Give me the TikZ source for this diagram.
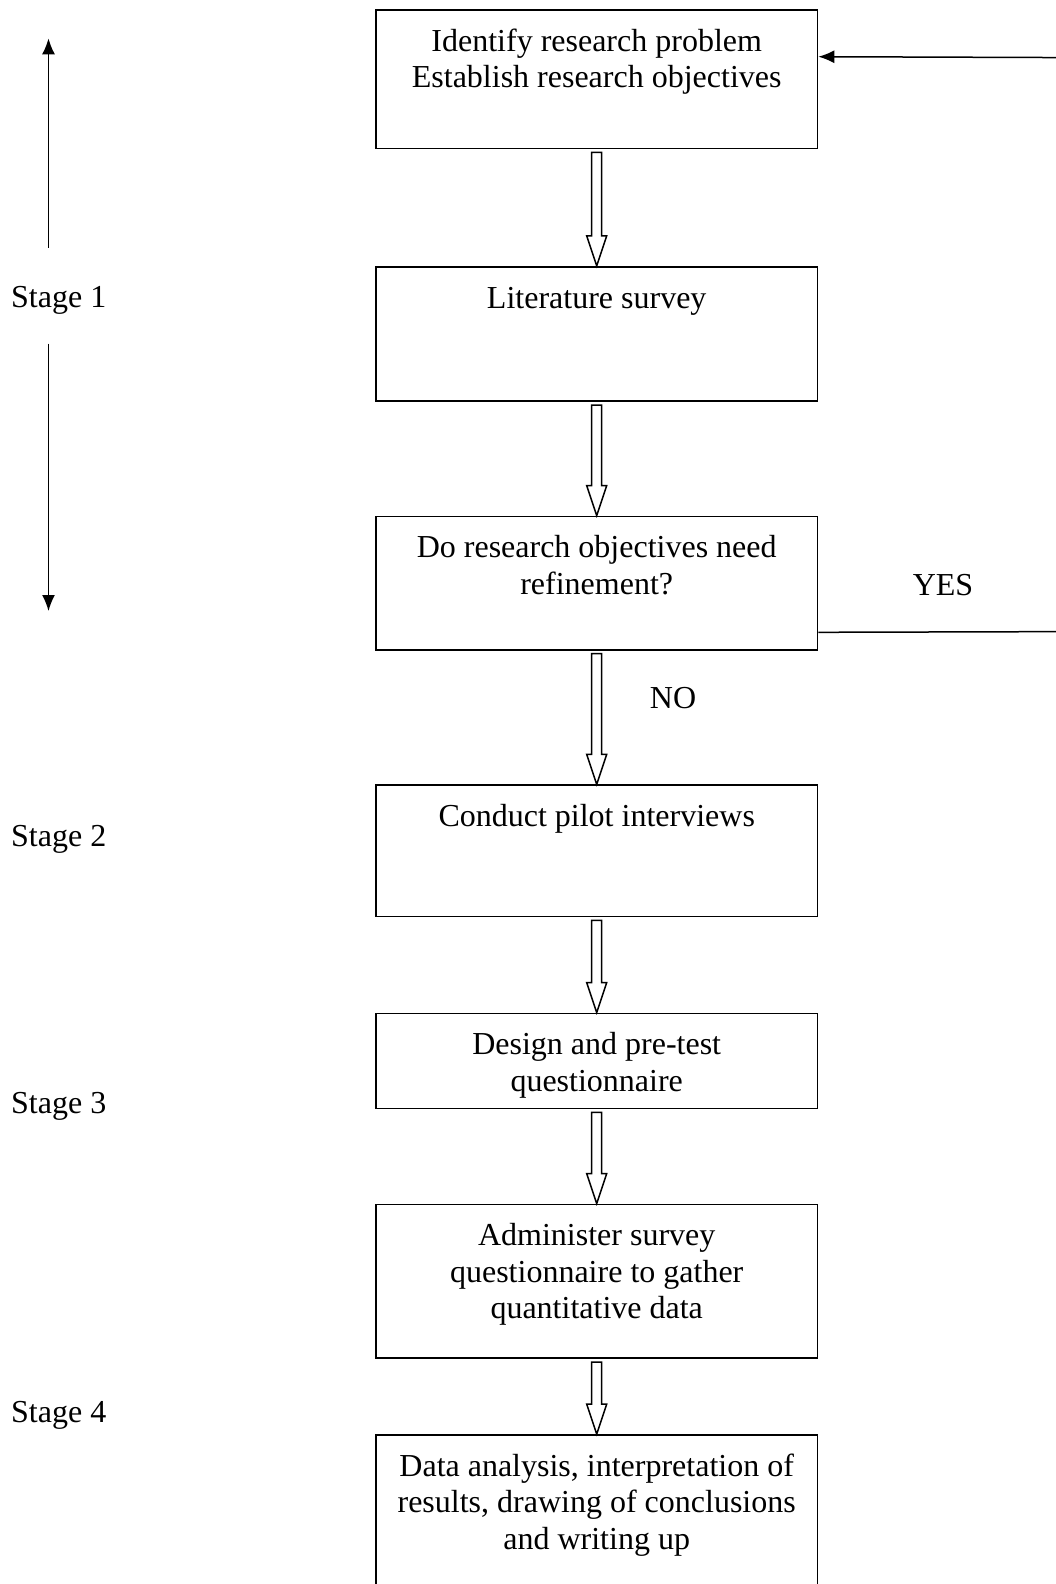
\documentclass[tikz,border=0pt]{standalone}
\usepackage{fontspec}
\setmainfont{Liberation Serif}
\usetikzlibrary{calc,arrows.meta}
\begin{document}
\begin{tikzpicture}[x=1pt,y=1pt,
  txtfont/.style={font=\fontsize{32}{36.4}\selectfont},
  box/.style={draw, line width=1.8pt, minimum width=441.5pt, inner sep=0pt},
  boxtext/.style={txtfont, align=center, anchor=north, inner sep=0pt},
  lbl/.style={txtfont, anchor=base west, inner sep=0pt},
  lblc/.style={txtfont, anchor=base, inner sep=0pt},
  hollow/.style={draw, line width=1.5pt, fill=white, line join=miter},
  thinarrow/.style={draw, line width=1.5pt, -{Latex[length=16pt,width=13pt]}}
]
\useasboundingbox (0,0) rectangle (1056,-1584);
\clip (0,0) rectangle (1056,-1584);
\fill[white] (0,0) rectangle (1056,-1584);

\newcommand\hollowarrow[2]{%
  \draw[hollow] ($(#1.south)+(-5,-3)$) -- ($(#2.north)+(-5,30)$) -- ($(#2.north)+(-10,30)$)
    -- (#2.north) -- ($(#2.north)+(10,30)$) -- ($(#2.north)+(5,30)$)
    -- ($(#1.south)+(5,-3)$) -- cycle;}

% boxes
\node[box, minimum height=138.5pt] (b1) at (596.7,-79.25) {};
\node[box, minimum height=134.4pt] (b2) at (596.7,-334) {};
\node[box, minimum height=133.4pt] (b3) at (596.7,-583.1) {};
\node[box, minimum height=131.3pt] (b4) at (596.7,-850.85) {};
\node[box, minimum height=95pt] (b5) at (596.7,-1061) {};
\node[box, minimum height=153.6pt] (b6) at (596.7,-1281.3) {};
\node[box, minimum height=175pt] (b7) at (596.7,-1522.5) {};

% box texts
\node[boxtext] (t1) at ($(b1.north)+(0,-16.5)$) {\strut Identify research problem\\Establish research objectives};
\node[boxtext] (t2) at ($(b2.north)+(0,-16.5)$) {\strut Literature survey};
\node[boxtext] (t3) at ($(b3.north)+(0,-16.5)$) {\strut Do research objectives need\\refinement?};
\node[boxtext] (t4) at ($(b4.north)+(0,-16.5)$) {\strut Conduct pilot interviews};
\node[boxtext] (t5) at ($(b5.north)+(0,-16.5)$) {\strut Design and pre-test\\questionnaire};
\node[boxtext] (t6) at ($(b6.north)+(0,-16.5)$) {\strut Administer survey\\questionnaire to gather\\quantitative data};
\node[boxtext] (t7) at ($(b7.north)+(0,-16.5)$) {\strut Data analysis, interpretation of\\results, drawing of conclusions\\and writing up};

% hollow arrows
\hollowarrow{b1}{b2}
\hollowarrow{b2}{b3}
\hollowarrow{b3}{b4}
\hollowarrow{b4}{b5}
\hollowarrow{b5}{b6}
\hollowarrow{b6}{b7}

% feedback loop (vertical part lies beyond the page edge)
\coordinate (r1) at (1070,-631.6);
\coordinate (r2) at (1070,-57.6);
\draw[thinarrow] ($(b3.south east)+(0,18.4)$) -- (r1) -- (r2) -- ($(b1.north east)+(0,-47.6)$);

% YES / NO
\node[lblc] (yes) at (943,-595) {YES};
\node[lblc] (no) at (673,-708) {NO};

% stage labels
\node[lbl] (s1) at (11,-307) {Stage 1};
\node[lbl] (s2) at (11,-846) {Stage 2};
\node[lbl] (s3) at (11,-1113) {Stage 3};
\node[lbl] (s4) at (11,-1422) {Stage 4};

\coordinate (s1up0) at (48.5,-247.6);
\coordinate (s1up1) at (48.5,-38.4);
\coordinate (s1dn0) at (48.5,-343.6);
\coordinate (s1dn1) at (48.5,-611);
\draw[thinarrow] (s1up0) -- (s1up1);
\draw[thinarrow] (s1dn0) -- (s1dn1);
\end{tikzpicture}
\end{document}
